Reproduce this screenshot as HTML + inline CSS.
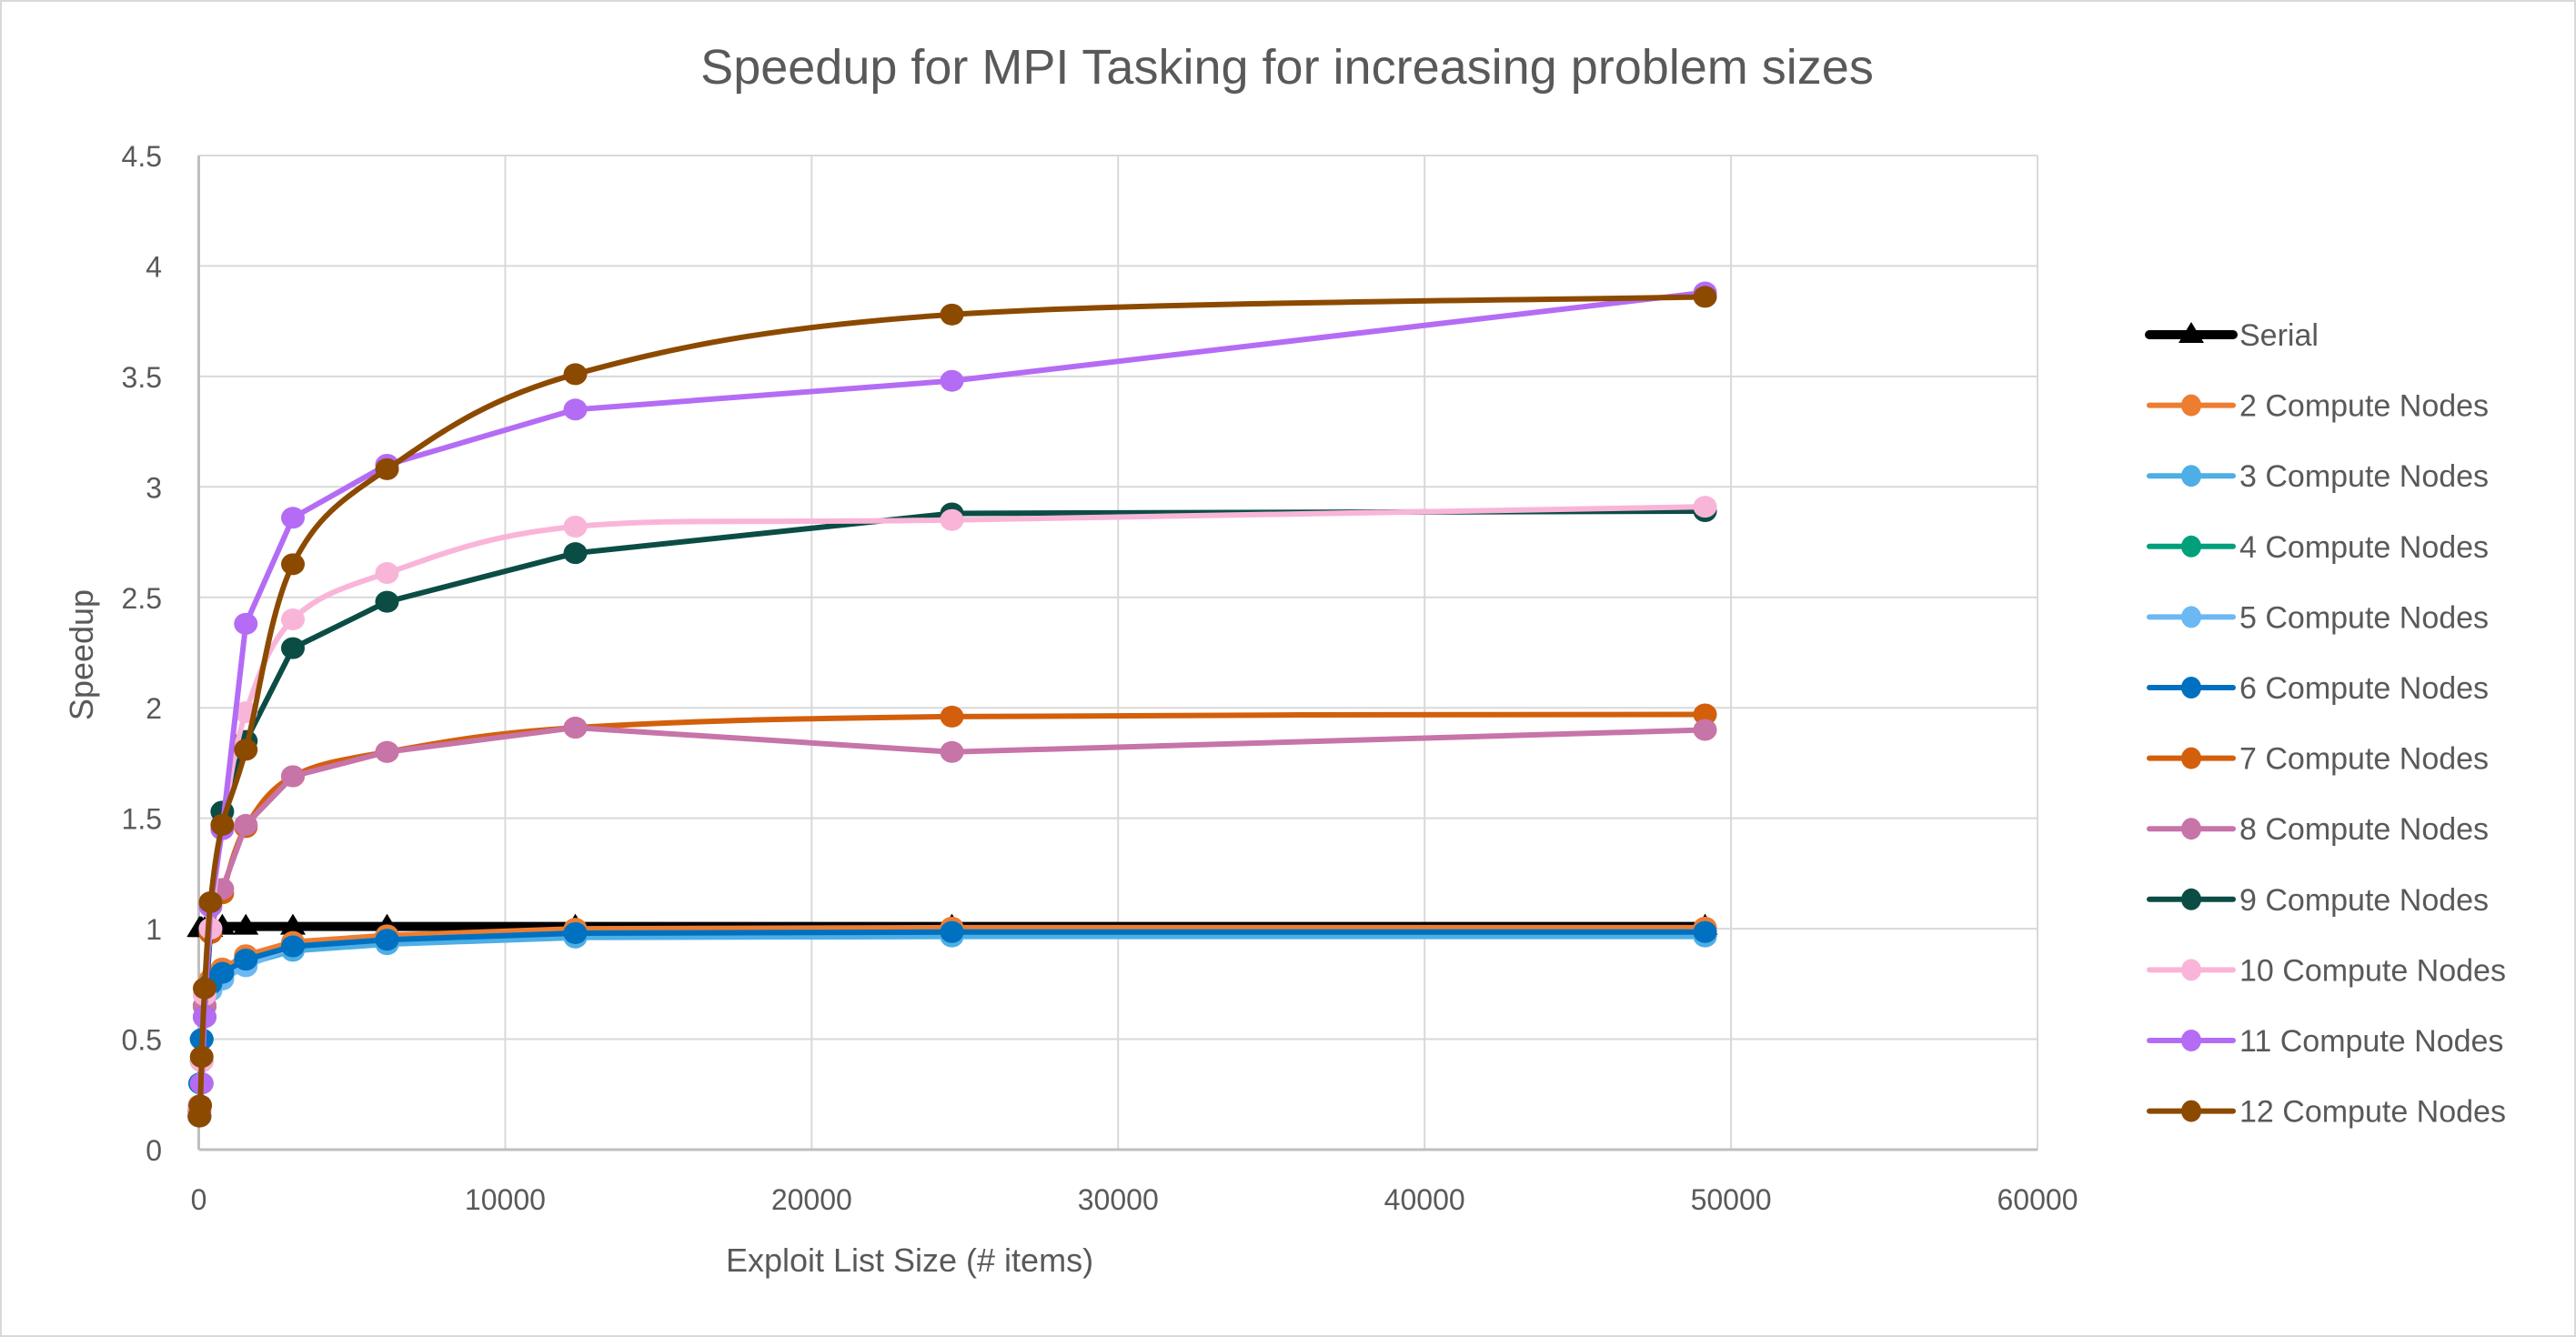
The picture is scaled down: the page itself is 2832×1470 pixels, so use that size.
<!DOCTYPE html>
<html><head><meta charset="utf-8"><style>
html,body{margin:0;padding:0;background:#fff;}
svg{display:block;font-family:"Liberation Sans",sans-serif;}
</style></head><body>
<svg id="s" width="2832" height="1470" viewBox="0 0 2832 1470" xmlns="http://www.w3.org/2000/svg">
<rect x="1" y="1" width="2830" height="1468" fill="#fff" stroke="#d9d9d9" stroke-width="2"/>
<text x="1415" y="92" font-size="54" fill="#595959" text-anchor="middle">Speedup for MPI Tasking for increasing problem sizes</text>
<g id="grid"></g>
<g id="series"></g>
<g id="legend"></g>
<text x="1000" y="1398" font-size="36" fill="#595959" text-anchor="middle">Exploit List Size (# items)</text>
<text transform="translate(102,720) rotate(-90)" font-size="36" fill="#595959" text-anchor="middle">Speedup</text>
</svg>
<script>
const NS="http://www.w3.org/2000/svg";
const X0=218.5,XW=2021.5,Y0=1264,YU=242.9;
const px=x=>X0+x/60000*XW, py=v=>Y0-v*YU;
function el(t,a,p){const e=document.createElementNS(NS,t);for(const k in a)e.setAttribute(k,a[k]);if(p)p.appendChild(e);return e;}
const g=document.getElementById('grid');
for(let i=0;i<=9;i++){const v=i*0.5,y=py(v);
 el('line',{x1:X0,x2:X0+XW,y1:y,y2:y,stroke:'#d9d9d9','stroke-width':2},g);
 const t=el('text',{x:178,y:y+12,'font-size':32,fill:'#595959','text-anchor':'end'},g);t.textContent=String(v);}
for(let i=0;i<=6;i++){const x=px(i*10000);
 el('line',{x1:x,x2:x,y1:py(4.5),y2:Y0,stroke:'#d9d9d9','stroke-width':2},g);
 const t=el('text',{x:x,y:1330,'font-size':32,fill:'#595959','text-anchor':'middle'},g);t.textContent=String(i*10000);}
el('line',{x1:X0,x2:X0,y1:py(4.5),y2:Y0,stroke:'#bfbfbf','stroke-width':3},g);
el('line',{x1:X0,x2:X0+XW,y1:Y0,y2:Y0,stroke:'#bfbfbf','stroke-width':3},g);
const xs=[24,48,96,192,384,768,1536,3072,6144,12288,24576,49152];
const low=[0.15,0.3,0.5,0.65,0.75,0.8,0.86,0.92,0.95,0.98,0.985,0.985];
const S=[
 ['Serial','#000',[1,1,1,1,1,1.01,1.01,1.01,1.01,1.01,1.01,1.01],false,true],
 ['2 Compute Nodes','#ED7D31',low.map((v,i)=>v+(i>3?0.02:0)),false],
 ['3 Compute Nodes','#4EAEE6',low.map((v,i)=>v-(i>3?0.02:0)),false],
 ['4 Compute Nodes','#00A07A',low,false],
 ['5 Compute Nodes','#6BB8F2',low.map((v,i)=>v-(i>3&&i<7?0.03:0)),false],
 ['6 Compute Nodes','#0070C0',low,false],
 ['7 Compute Nodes','#D35F0C',null,true],
 ['8 Compute Nodes','#C774A8',null,false],
 ['9 Compute Nodes','#0B4D45',null,false],
 ['10 Compute Nodes','#F9B5D8',null,true],
 ['11 Compute Nodes','#B46CF5',null,false],
 ['12 Compute Nodes','#8C4A00',[0.15,0.2,0.42,0.73,1.12,1.47,1.81,2.65,3.08,3.51,3.78,3.86],true],
];
const fix={6:[0.17,0.3,0.65,0.98,1.16,1.46,1.69,1.8,1.91,1.96,1.97],
 7:[0.18,0.3,0.65,1.0,1.18,1.47,1.69,1.8,1.91,1.8,1.9],
 8:[0.2,0.4,0.6,1.0,1.53,1.85,2.27,2.48,2.7,2.88,2.89],
 9:[0.2,0.4,0.7,1.0,1.45,1.98,2.4,2.61,2.82,2.85,2.91],
 10:[0.15,0.3,0.6,1.1,1.45,2.38,2.86,3.1,3.35,3.48,3.88]};
const xx=[24,96,192,384,768,1536,3072,6144,12288,24576,49152];
function path(P,smooth){
 if(!smooth)return 'M'+P.map(p=>p.join(',')).join(' L');
 let d='M'+P[0].join(',');
 for(let i=0;i<P.length-1;i++){const p0=P[Math.max(0,i-1)],p1=P[i],p2=P[i+1],p3=P[Math.min(P.length-1,i+2)];
  const c1=[p1[0]+(p2[0]-p0[0])/6,p1[1]+(p2[1]-p0[1])/6],c2=[p2[0]-(p3[0]-p1[0])/6,p2[1]-(p3[1]-p1[1])/6];
  d+=` C${c1} ${c2} ${p2}`;}
 return d;}
const sg=document.getElementById('series'),lg=document.getElementById('legend');
S.forEach((s,k)=>{
 let P;
 if(fix[k]) P=xx.map((x,i)=>[px(x),py(fix[k][i])]);
 else P=xs.map((x,i)=>[px(x),py(s[2][i])]);
 el('path',{d:path(P,s[3]),fill:'none',stroke:s[1],'stroke-width':s[4]?10:6,'stroke-linejoin':'round'},sg);
 P.forEach(p=>{ if(s[4]) el('path',{d:`M${p[0]-14},${p[1]+9} L${p[0]},${p[1]-14} L${p[0]+14},${p[1]+9}Z`,fill:'#000'},sg);
  else el('ellipse',{cx:p[0],cy:p[1],rx:13,ry:12,fill:s[1]},sg);});
 const ly=368+k*77.6;
 el('line',{x1:2363,x2:2455,y1:ly,y2:ly,stroke:s[1],'stroke-width':s[4]?10:6,'stroke-linecap':'round'},lg);
 if(s[4]) el('path',{d:`M${2395},${ly+9} L2409,${ly-14} L2423,${ly+9}Z`,fill:'#000'},lg);
 else el('ellipse',{cx:2409,cy:ly,rx:11,ry:12,fill:s[1]},lg);
 const t=el('text',{x:2462,y:ly+12,'font-size':34,fill:'#595959'},lg);t.textContent=s[0];
});
</script>
</body></html>
